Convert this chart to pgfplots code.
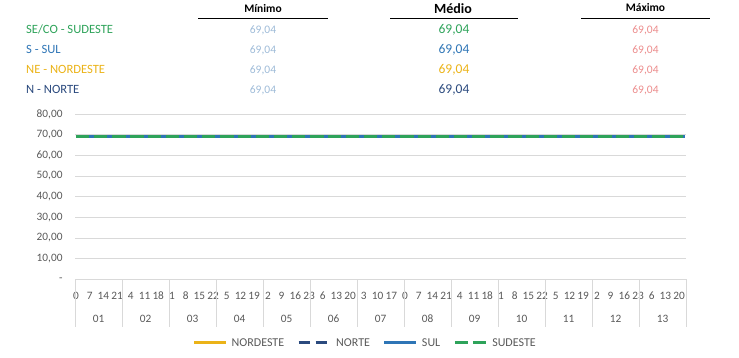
\documentclass[border=0pt]{standalone}
\usepackage{fontspec}
\setmainfont{Carlito}
\usepackage{pgfplots}
\usepackage{pgfplotstable}
\pgfplotsset{compat=1.18}
\definecolor{cse}{HTML}{2EA35A}
\definecolor{csul}{HTML}{2E75B6}
\definecolor{cne}{HTML}{EBB318}
\definecolor{cn}{HTML}{2B4A7E}
\definecolor{cmin}{HTML}{9EBBD8}
\definecolor{cmax}{HTML}{EC8D8D}
\definecolor{labelgray}{HTML}{595959}
\definecolor{gridgray}{HTML}{D9D9D9}

% hourly values, 13 days x 24 hours = 312 rows (4 lines of 6 rows per day)
\pgfplotstableread[row sep=\\]{
ne n s se\\
% day 01
69.04 69.04 69.04 69.04\\69.04 69.04 69.04 69.04\\69.04 69.04 69.04 69.04\\69.04 69.04 69.04 69.04\\69.04 69.04 69.04 69.04\\69.04 69.04 69.04 69.04\\
69.04 69.04 69.04 69.04\\69.04 69.04 69.04 69.04\\69.04 69.04 69.04 69.04\\69.04 69.04 69.04 69.04\\69.04 69.04 69.04 69.04\\69.04 69.04 69.04 69.04\\
69.04 69.04 69.04 69.04\\69.04 69.04 69.04 69.04\\69.04 69.04 69.04 69.04\\69.04 69.04 69.04 69.04\\69.04 69.04 69.04 69.04\\69.04 69.04 69.04 69.04\\
69.04 69.04 69.04 69.04\\69.04 69.04 69.04 69.04\\69.04 69.04 69.04 69.04\\69.04 69.04 69.04 69.04\\69.04 69.04 69.04 69.04\\69.04 69.04 69.04 69.04\\
% day 02
69.04 69.04 69.04 69.04\\69.04 69.04 69.04 69.04\\69.04 69.04 69.04 69.04\\69.04 69.04 69.04 69.04\\69.04 69.04 69.04 69.04\\69.04 69.04 69.04 69.04\\
69.04 69.04 69.04 69.04\\69.04 69.04 69.04 69.04\\69.04 69.04 69.04 69.04\\69.04 69.04 69.04 69.04\\69.04 69.04 69.04 69.04\\69.04 69.04 69.04 69.04\\
69.04 69.04 69.04 69.04\\69.04 69.04 69.04 69.04\\69.04 69.04 69.04 69.04\\69.04 69.04 69.04 69.04\\69.04 69.04 69.04 69.04\\69.04 69.04 69.04 69.04\\
69.04 69.04 69.04 69.04\\69.04 69.04 69.04 69.04\\69.04 69.04 69.04 69.04\\69.04 69.04 69.04 69.04\\69.04 69.04 69.04 69.04\\69.04 69.04 69.04 69.04\\
% day 03
69.04 69.04 69.04 69.04\\69.04 69.04 69.04 69.04\\69.04 69.04 69.04 69.04\\69.04 69.04 69.04 69.04\\69.04 69.04 69.04 69.04\\69.04 69.04 69.04 69.04\\
69.04 69.04 69.04 69.04\\69.04 69.04 69.04 69.04\\69.04 69.04 69.04 69.04\\69.04 69.04 69.04 69.04\\69.04 69.04 69.04 69.04\\69.04 69.04 69.04 69.04\\
69.04 69.04 69.04 69.04\\69.04 69.04 69.04 69.04\\69.04 69.04 69.04 69.04\\69.04 69.04 69.04 69.04\\69.04 69.04 69.04 69.04\\69.04 69.04 69.04 69.04\\
69.04 69.04 69.04 69.04\\69.04 69.04 69.04 69.04\\69.04 69.04 69.04 69.04\\69.04 69.04 69.04 69.04\\69.04 69.04 69.04 69.04\\69.04 69.04 69.04 69.04\\
% day 04
69.04 69.04 69.04 69.04\\69.04 69.04 69.04 69.04\\69.04 69.04 69.04 69.04\\69.04 69.04 69.04 69.04\\69.04 69.04 69.04 69.04\\69.04 69.04 69.04 69.04\\
69.04 69.04 69.04 69.04\\69.04 69.04 69.04 69.04\\69.04 69.04 69.04 69.04\\69.04 69.04 69.04 69.04\\69.04 69.04 69.04 69.04\\69.04 69.04 69.04 69.04\\
69.04 69.04 69.04 69.04\\69.04 69.04 69.04 69.04\\69.04 69.04 69.04 69.04\\69.04 69.04 69.04 69.04\\69.04 69.04 69.04 69.04\\69.04 69.04 69.04 69.04\\
69.04 69.04 69.04 69.04\\69.04 69.04 69.04 69.04\\69.04 69.04 69.04 69.04\\69.04 69.04 69.04 69.04\\69.04 69.04 69.04 69.04\\69.04 69.04 69.04 69.04\\
% day 05
69.04 69.04 69.04 69.04\\69.04 69.04 69.04 69.04\\69.04 69.04 69.04 69.04\\69.04 69.04 69.04 69.04\\69.04 69.04 69.04 69.04\\69.04 69.04 69.04 69.04\\
69.04 69.04 69.04 69.04\\69.04 69.04 69.04 69.04\\69.04 69.04 69.04 69.04\\69.04 69.04 69.04 69.04\\69.04 69.04 69.04 69.04\\69.04 69.04 69.04 69.04\\
69.04 69.04 69.04 69.04\\69.04 69.04 69.04 69.04\\69.04 69.04 69.04 69.04\\69.04 69.04 69.04 69.04\\69.04 69.04 69.04 69.04\\69.04 69.04 69.04 69.04\\
69.04 69.04 69.04 69.04\\69.04 69.04 69.04 69.04\\69.04 69.04 69.04 69.04\\69.04 69.04 69.04 69.04\\69.04 69.04 69.04 69.04\\69.04 69.04 69.04 69.04\\
% day 06
69.04 69.04 69.04 69.04\\69.04 69.04 69.04 69.04\\69.04 69.04 69.04 69.04\\69.04 69.04 69.04 69.04\\69.04 69.04 69.04 69.04\\69.04 69.04 69.04 69.04\\
69.04 69.04 69.04 69.04\\69.04 69.04 69.04 69.04\\69.04 69.04 69.04 69.04\\69.04 69.04 69.04 69.04\\69.04 69.04 69.04 69.04\\69.04 69.04 69.04 69.04\\
69.04 69.04 69.04 69.04\\69.04 69.04 69.04 69.04\\69.04 69.04 69.04 69.04\\69.04 69.04 69.04 69.04\\69.04 69.04 69.04 69.04\\69.04 69.04 69.04 69.04\\
69.04 69.04 69.04 69.04\\69.04 69.04 69.04 69.04\\69.04 69.04 69.04 69.04\\69.04 69.04 69.04 69.04\\69.04 69.04 69.04 69.04\\69.04 69.04 69.04 69.04\\
% day 07
69.04 69.04 69.04 69.04\\69.04 69.04 69.04 69.04\\69.04 69.04 69.04 69.04\\69.04 69.04 69.04 69.04\\69.04 69.04 69.04 69.04\\69.04 69.04 69.04 69.04\\
69.04 69.04 69.04 69.04\\69.04 69.04 69.04 69.04\\69.04 69.04 69.04 69.04\\69.04 69.04 69.04 69.04\\69.04 69.04 69.04 69.04\\69.04 69.04 69.04 69.04\\
69.04 69.04 69.04 69.04\\69.04 69.04 69.04 69.04\\69.04 69.04 69.04 69.04\\69.04 69.04 69.04 69.04\\69.04 69.04 69.04 69.04\\69.04 69.04 69.04 69.04\\
69.04 69.04 69.04 69.04\\69.04 69.04 69.04 69.04\\69.04 69.04 69.04 69.04\\69.04 69.04 69.04 69.04\\69.04 69.04 69.04 69.04\\69.04 69.04 69.04 69.04\\
% day 08
69.04 69.04 69.04 69.04\\69.04 69.04 69.04 69.04\\69.04 69.04 69.04 69.04\\69.04 69.04 69.04 69.04\\69.04 69.04 69.04 69.04\\69.04 69.04 69.04 69.04\\
69.04 69.04 69.04 69.04\\69.04 69.04 69.04 69.04\\69.04 69.04 69.04 69.04\\69.04 69.04 69.04 69.04\\69.04 69.04 69.04 69.04\\69.04 69.04 69.04 69.04\\
69.04 69.04 69.04 69.04\\69.04 69.04 69.04 69.04\\69.04 69.04 69.04 69.04\\69.04 69.04 69.04 69.04\\69.04 69.04 69.04 69.04\\69.04 69.04 69.04 69.04\\
69.04 69.04 69.04 69.04\\69.04 69.04 69.04 69.04\\69.04 69.04 69.04 69.04\\69.04 69.04 69.04 69.04\\69.04 69.04 69.04 69.04\\69.04 69.04 69.04 69.04\\
% day 09
69.04 69.04 69.04 69.04\\69.04 69.04 69.04 69.04\\69.04 69.04 69.04 69.04\\69.04 69.04 69.04 69.04\\69.04 69.04 69.04 69.04\\69.04 69.04 69.04 69.04\\
69.04 69.04 69.04 69.04\\69.04 69.04 69.04 69.04\\69.04 69.04 69.04 69.04\\69.04 69.04 69.04 69.04\\69.04 69.04 69.04 69.04\\69.04 69.04 69.04 69.04\\
69.04 69.04 69.04 69.04\\69.04 69.04 69.04 69.04\\69.04 69.04 69.04 69.04\\69.04 69.04 69.04 69.04\\69.04 69.04 69.04 69.04\\69.04 69.04 69.04 69.04\\
69.04 69.04 69.04 69.04\\69.04 69.04 69.04 69.04\\69.04 69.04 69.04 69.04\\69.04 69.04 69.04 69.04\\69.04 69.04 69.04 69.04\\69.04 69.04 69.04 69.04\\
% day 10
69.04 69.04 69.04 69.04\\69.04 69.04 69.04 69.04\\69.04 69.04 69.04 69.04\\69.04 69.04 69.04 69.04\\69.04 69.04 69.04 69.04\\69.04 69.04 69.04 69.04\\
69.04 69.04 69.04 69.04\\69.04 69.04 69.04 69.04\\69.04 69.04 69.04 69.04\\69.04 69.04 69.04 69.04\\69.04 69.04 69.04 69.04\\69.04 69.04 69.04 69.04\\
69.04 69.04 69.04 69.04\\69.04 69.04 69.04 69.04\\69.04 69.04 69.04 69.04\\69.04 69.04 69.04 69.04\\69.04 69.04 69.04 69.04\\69.04 69.04 69.04 69.04\\
69.04 69.04 69.04 69.04\\69.04 69.04 69.04 69.04\\69.04 69.04 69.04 69.04\\69.04 69.04 69.04 69.04\\69.04 69.04 69.04 69.04\\69.04 69.04 69.04 69.04\\
% day 11
69.04 69.04 69.04 69.04\\69.04 69.04 69.04 69.04\\69.04 69.04 69.04 69.04\\69.04 69.04 69.04 69.04\\69.04 69.04 69.04 69.04\\69.04 69.04 69.04 69.04\\
69.04 69.04 69.04 69.04\\69.04 69.04 69.04 69.04\\69.04 69.04 69.04 69.04\\69.04 69.04 69.04 69.04\\69.04 69.04 69.04 69.04\\69.04 69.04 69.04 69.04\\
69.04 69.04 69.04 69.04\\69.04 69.04 69.04 69.04\\69.04 69.04 69.04 69.04\\69.04 69.04 69.04 69.04\\69.04 69.04 69.04 69.04\\69.04 69.04 69.04 69.04\\
69.04 69.04 69.04 69.04\\69.04 69.04 69.04 69.04\\69.04 69.04 69.04 69.04\\69.04 69.04 69.04 69.04\\69.04 69.04 69.04 69.04\\69.04 69.04 69.04 69.04\\
% day 12
69.04 69.04 69.04 69.04\\69.04 69.04 69.04 69.04\\69.04 69.04 69.04 69.04\\69.04 69.04 69.04 69.04\\69.04 69.04 69.04 69.04\\69.04 69.04 69.04 69.04\\
69.04 69.04 69.04 69.04\\69.04 69.04 69.04 69.04\\69.04 69.04 69.04 69.04\\69.04 69.04 69.04 69.04\\69.04 69.04 69.04 69.04\\69.04 69.04 69.04 69.04\\
69.04 69.04 69.04 69.04\\69.04 69.04 69.04 69.04\\69.04 69.04 69.04 69.04\\69.04 69.04 69.04 69.04\\69.04 69.04 69.04 69.04\\69.04 69.04 69.04 69.04\\
69.04 69.04 69.04 69.04\\69.04 69.04 69.04 69.04\\69.04 69.04 69.04 69.04\\69.04 69.04 69.04 69.04\\69.04 69.04 69.04 69.04\\69.04 69.04 69.04 69.04\\
% day 13
69.04 69.04 69.04 69.04\\69.04 69.04 69.04 69.04\\69.04 69.04 69.04 69.04\\69.04 69.04 69.04 69.04\\69.04 69.04 69.04 69.04\\69.04 69.04 69.04 69.04\\
69.04 69.04 69.04 69.04\\69.04 69.04 69.04 69.04\\69.04 69.04 69.04 69.04\\69.04 69.04 69.04 69.04\\69.04 69.04 69.04 69.04\\69.04 69.04 69.04 69.04\\
69.04 69.04 69.04 69.04\\69.04 69.04 69.04 69.04\\69.04 69.04 69.04 69.04\\69.04 69.04 69.04 69.04\\69.04 69.04 69.04 69.04\\69.04 69.04 69.04 69.04\\
69.04 69.04 69.04 69.04\\69.04 69.04 69.04 69.04\\69.04 69.04 69.04 69.04\\69.04 69.04 69.04 69.04\\69.04 69.04 69.04 69.04\\69.04 69.04 69.04 69.04\\
}\loadtable

\begin{document}
\begin{tikzpicture}
\path[use as bounding box] (0pt,0pt) rectangle (739pt,-358pt);
\begin{axis}[
  scale only axis, width=611pt, height=165.2pt,
  at={(75pt,-279.2pt)}, anchor=south west,
  xmin=-0.5, xmax=311.5, ymin=0, ymax=80,
  clip=false,
  axis line style={draw=none},
  major tick length=0pt,
  ytick={0,10,20,30,40,50,60,70,80},
  yticklabels={{-\hspace{6pt}},{10,00},{20,00},{30,00},{40,00},{50,00},{60,00},{70,00},{80,00}},
  ymajorgrids, grid style={color=gridgray, line width=0.8pt},
  xtick={0,7,...,308},
  xticklabels={0,7,14,21,4,11,18,1,8,15,22,5,12,19,2,9,16,23,6,13,20,3,10,17,0,7,14,21,4,11,18,1,8,15,22,5,12,19,2,9,16,23,6,13,20},
  tick label style={font=\fontsize{11.3}{13}\selectfont, text=labelgray},
  yticklabel style={anchor=east, xshift=-9pt},
  xticklabel style={anchor=center, yshift=-16.6pt},
  extra x ticks={11.5,35.5,59.5,83.5,107.5,131.5,155.5,179.5,203.5,227.5,251.5,275.5,299.5},
  extra x tick labels={01,02,03,04,05,06,07,08,09,10,11,12,13},
  extra x tick style={xticklabel style={yshift=-22.7pt}},
  legend style={at={(0.475,-0.386)}, anchor=center, draw=none, fill=none,
    font=\fontsize{12}{14}\selectfont, text=labelgray, legend columns=4,
    /tikz/every odd column/.append style={column sep=2pt},
    /tikz/every even column/.append style={column sep=11pt}},
  legend image code/.code={\draw[#1] (0pt,0pt) -- (32pt,0pt);},
]
\addplot[cne, line width=3pt, no marks] table[x expr=\coordindex, y=ne]{\loadtable};
\addlegendentry{NORDESTE}
\addplot[cn, line width=3pt, no marks, dash pattern=on 11pt off 6pt] table[x expr=\coordindex, y=n]{\loadtable};
\addlegendentry{NORTE}
\addplot[csul, line width=3pt, no marks] table[x expr=\coordindex, y=s]{\loadtable};
\addlegendentry{SUL}
\addplot[cse, line width=3pt, no marks, dash pattern=on 13pt off 5pt] table[x expr=\coordindex, y=se]{\loadtable};
\addlegendentry{SUDESTE}
\end{axis}
% category separators
\foreach \d in {0,...,13}{
  \draw[gridgray, line width=0.8pt] ({75pt+47pt*\d},-279.2pt) -- ++(0pt,-48pt);
}
% header table
\def\fs{\fontsize{11.5}{13}\selectfont}
\def\fl{\fontsize{12.6}{14}\selectfont}
\node[anchor=base, font=\bfseries\fs] at (263pt,-12.7pt) {Mínimo};
\draw[line width=0.9pt] (198pt,-18pt) -- (328pt,-18pt);
\node[anchor=base, font=\bfseries\fontsize{14}{16}\selectfont] at (453pt,-14pt) {Médio};
\draw[line width=0.9pt] (390pt,-18pt) -- (518pt,-18pt);
\node[anchor=base, font=\bfseries\fs] at (645.5pt,-11.7pt) {Máximo};
\draw[line width=0.9pt] (581pt,-18pt) -- (710pt,-18pt);
% rows
\node[anchor=base west, inner sep=0pt, font=\fl, text=cse] at (26pt,-33.3pt) {SE/CO - SUDESTE};
\node[anchor=base west, inner sep=0pt, font=\fl, text=csul] at (26pt,-53.3pt) {S - SUL};
\node[anchor=base west, inner sep=0pt, font=\fl, text=cne] at (26pt,-73.3pt) {NE - NORDESTE};
\node[anchor=base west, inner sep=0pt, font=\fl, text=cn] at (26pt,-93.3pt) {N - NORTE};
\foreach \yy in {33.3,53.3,73.3,93.3}{
  \node[anchor=base, font=\fs, text=cmin] at (263pt,-\yy pt) {69,04};
  \node[anchor=base, font=\fs, text=cmax] at (645.5pt,-\yy pt) {69,04};
}
\node[anchor=base, font=\fontsize{13.5}{15}\selectfont, text=cse] at (454pt,-33.3pt) {69,04};
\node[anchor=base, font=\fontsize{13.5}{15}\selectfont, text=csul] at (454pt,-53.3pt) {69,04};
\node[anchor=base, font=\fontsize{13.5}{15}\selectfont, text=cne] at (454pt,-73.3pt) {69,04};
\node[anchor=base, font=\fontsize{13.5}{15}\selectfont, text=cn] at (454pt,-93.3pt) {69,04};
\end{tikzpicture}
\end{document}
